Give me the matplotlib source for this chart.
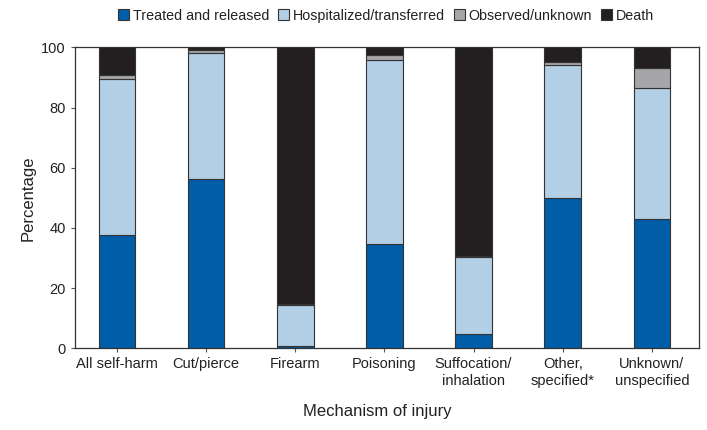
import numpy as np
import matplotlib
matplotlib.use("Agg")
import matplotlib.pyplot as plt

plt.rcParams['font.family'] = ['Liberation Sans', 'DejaVu Sans']
plt.rcParams['text.color'] = '#222222'
plt.rcParams['axes.labelcolor'] = '#222222'
plt.rcParams['xtick.labelcolor'] = '#222222'
plt.rcParams['ytick.labelcolor'] = '#222222'

# 数据
categories = ["All self-harm", "Cut/pierce", "Firearm", "Poisoning",
              "Suffocation/\ninhalation", "Other,\nspecified*", "Unknown/\nunspecified"]
treated = [37.5, 56.4, 0.7, 34.8, 4.7, 49.9, 42.9]
hospitalized = [52.1, 41.8, 13.8, 60.9, 25.6, 44.3, 43.7]
observed = [1.3, 0.8, 0.2, 1.6, 0.2, 0.8, 6.6]
death = [9.1, 1.0, 85.3, 2.7, 69.5, 5.0, 6.8]

series = [
    ("Treated and released", treated, "#005DA8"),
    ("Hospitalized/transferred", hospitalized, "#B3CFE5"),
    ("Observed/unknown", observed, "#A6A6A8"),
    ("Death", death, "#231F20"),
]

fig = plt.figure(figsize=(7.07, 4.30), dpi=100)
ax = fig.add_axes([0.106, 0.19, 0.883, 0.70])

x = np.arange(len(categories))
bottom = np.zeros(len(categories))
for name, vals, color in series:
    vals = np.array(vals)
    ax.bar(x, vals, width=0.41, bottom=bottom, color=color, label=name,
           edgecolor="#333333", linewidth=0.8)
    bottom += vals

ax.set_xlim(-0.47, 6.53)
ax.set_ylim(0, 100)
ax.set_yticks([0, 20, 40, 60, 80, 100])
ax.set_xticks(x)
ax.set_xticklabels(categories, fontsize=10.5)
ax.tick_params(axis='y', labelsize=10.5, length=3, color="#555555")
ax.tick_params(axis='x', length=3, color="#555555")
for s in ax.spines.values():
    s.set_color("#333333")
    s.set_linewidth(0.9)

ax.set_ylabel("Percentage", fontsize=12)
ax.set_xlabel("Mechanism of injury", fontsize=12)
ax.xaxis.set_label_coords(0.484, -0.185)

fig.legend(loc="upper center", bbox_to_anchor=(0.546, 1.01), ncol=4, frameon=False,
           fontsize=10.3, handlelength=0.8, handleheight=0.8, handletextpad=0.25,
           columnspacing=0.6)

plt.savefig("out.png", dpi=100)
